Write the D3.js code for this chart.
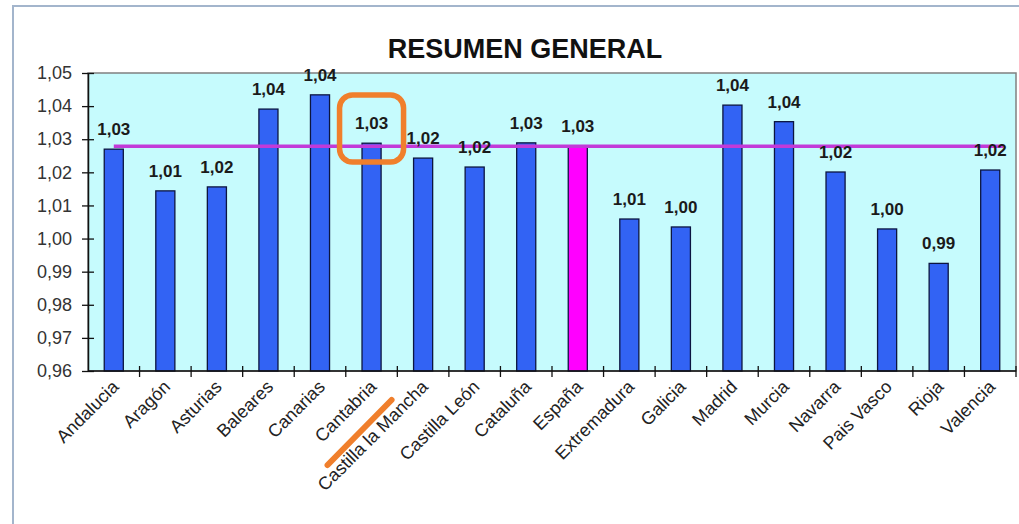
<!DOCTYPE html>
<html>
<head>
<meta charset="utf-8">
<script src="https://cdnjs.cloudflare.com/ajax/libs/d3/7.8.5/d3.min.js"></script>
<style>
  body { margin: 0; background: #fff; }
  svg { display: block; }
</style>
</head>
<body>
<script>
// data
const regions = ["Andalucia","Aragón","Asturias","Baleares","Canarias","Cantabria",
  "Castilla la Mancha","Castilla León","Cataluña","España","Extremadura","Galicia",
  "Madrid","Murcia","Navarra","Pais Vasco","Rioja","Valencia"];
const values = [1.0270,1.0144,1.0156,1.0391,1.0434,1.0288,1.0243,1.0216,1.0289,1.0279,
  1.0059,1.0035,1.0403,1.0353,1.0201,1.0029,0.9925,1.0207];
const average = 1.0279;
const yTicks = [0.96,0.97,0.98,0.99,1.00,1.01,1.02,1.03,1.04,1.05];
const highlight = "España";
const marked = "Cantabria";

const w = 1019, h = 524;
const mLeft = 88, mRight = 1016, mTop = 73, mBottom = 371;

const svg = d3.select("body").append("svg")
  .attr("width", w).attr("height", h);

// outer frame
svg.append("rect")
  .attr("x", 13).attr("y", 6).attr("width", 1030).attr("height", 540)
  .attr("fill", "#fff").attr("stroke", "#a3b5cc").attr("stroke-width", 2);

const x = d3.scaleBand().domain(regions).range([mLeft, mRight]).paddingInner(0.63).paddingOuter(0.315);
const xt = d3.scaleBand().domain(regions).range([mLeft, mRight]);
const y = d3.scaleLinear().domain([0.96, 1.05]).range([mBottom, mTop]);
const fmt = v => d3.format(".2f")(v).replace(".", ",");

svg.append("text")
  .attr("x", 525).attr("y", 58)
  .attr("text-anchor", "middle")
  .style("font-family", "'Liberation Sans', Arial, sans-serif")
  .style("font-weight", "bold").style("font-size", "27px")
  .attr("fill", "#111")
  .text("RESUMEN GENERAL");

// plot area
svg.append("rect")
  .attr("x", mLeft).attr("y", mTop).attr("width", mRight - mLeft).attr("height", mBottom - mTop)
  .attr("fill", "#c6fbfd").attr("stroke", "#808080").attr("stroke-width", 1.5);

// bars
svg.selectAll("rect.bar").data(regions).enter().append("rect")
  .attr("class", "bar")
  .attr("x", d => x(d))
  .attr("y", (d, i) => y(values[i]))
  .attr("width", x.bandwidth())
  .attr("height", (d, i) => mBottom - y(values[i]))
  .attr("fill", d => d === highlight ? "#ff00ff" : "#3263f4")
  .attr("stroke", "#0c1540").attr("stroke-width", 1.3);

// average line
svg.append("line")
  .attr("x1", xt(regions[0]) + xt.bandwidth() / 2)
  .attr("x2", xt(regions[regions.length - 1]) + xt.bandwidth() / 2 + 13)
  .attr("y1", y(average)).attr("y2", y(average))
  .attr("stroke", "#c23ad8").attr("stroke-width", 3.5);

// value labels
svg.selectAll("text.val").data(regions).enter().append("text")
  .attr("class", "val")
  .attr("x", d => x(d) + x.bandwidth() / 2)
  .attr("y", (d, i) => y(values[i]) - 14)
  .attr("text-anchor", "middle")
  .style("font-family", "'Liberation Sans', Arial, sans-serif")
  .style("font-weight", "bold").style("font-size", "17px")
  .attr("fill", "#1a1a1a")
  .text((d, i) => fmt(values[i]));

// y axis
const yAxis = svg.append("g").attr("transform", `translate(${mLeft},0)`)
  .call(d3.axisLeft(y).tickValues(yTicks).tickFormat(fmt).tickSizeInner(6).tickSizeOuter(0));
yAxis.select(".domain").attr("stroke", "#111").attr("stroke-width", 1.5);
yAxis.selectAll(".tick line").attr("stroke", "#111").attr("x2", 6).attr("x1", -6).attr("stroke-width", 1.3);
yAxis.selectAll(".tick text")
  .attr("x", -16)
  .style("font-family", "'Liberation Sans', Arial, sans-serif")
  .style("font-size", "18px").attr("fill", "#333");

// x axis with ticks between categories
svg.append("line")
  .attr("x1", mLeft).attr("x2", mRight).attr("y1", mBottom).attr("y2", mBottom)
  .attr("stroke", "#111").attr("stroke-width", 1.5);
svg.selectAll("line.xt").data(regions).enter().append("line")
  .attr("class", "xt")
  .attr("x1", d => xt(d) + xt.bandwidth())
  .attr("x2", d => xt(d) + xt.bandwidth())
  .attr("y1", mBottom - 5).attr("y2", mBottom + 6)
  .attr("stroke", "#111").attr("stroke-width", 1.3);

svg.selectAll("text.cat").data(regions).enter().append("text")
  .attr("class", "cat")
  .attr("transform", d => `translate(${xt(d) + xt.bandwidth() / 2 + 6},${mBottom + 17}) rotate(-45)`)
  .attr("text-anchor", "end")
  .style("font-family", "'Liberation Sans', Arial, sans-serif")
  .style("font-size", "18px").attr("fill", "#222")
  .text(d => d);

// orange annotations
const cx = x(marked) + x.bandwidth() / 2;
svg.append("rect")
  .attr("x", cx - 32).attr("y", 95).attr("width", 64).attr("height", 67)
  .attr("rx", 13).attr("fill", "none")
  .attr("stroke", "#f07f2c").attr("stroke-width", 5.5);
svg.append("line")
  .attr("x1", cx - 44).attr("y1", 465).attr("x2", cx + 20).attr("y2", 400)
  .attr("stroke", "#f07f2c").attr("stroke-width", 6).attr("stroke-linecap", "round");
</script>
</body>
</html>
